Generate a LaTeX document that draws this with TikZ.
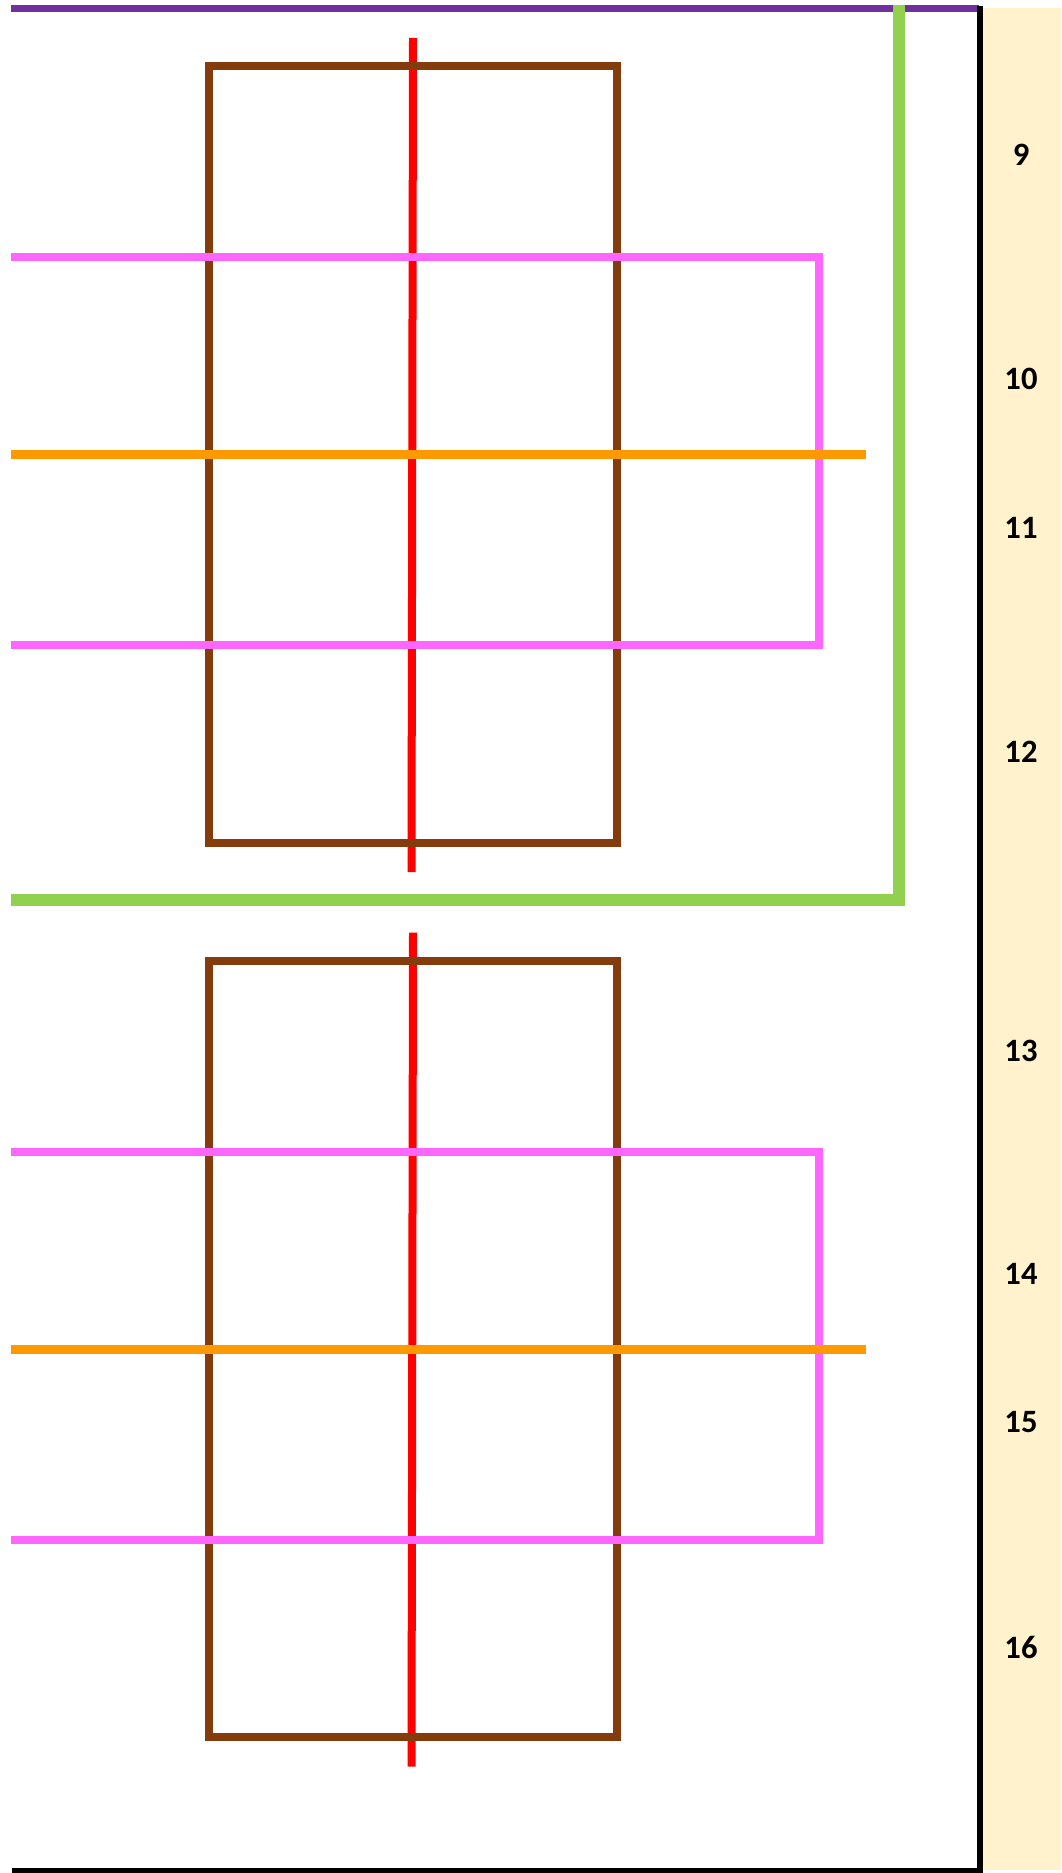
\documentclass[tikz,border=0pt]{standalone}
\usepackage{fontspec}
\setmainfont{Carlito}
\usetikzlibrary{calc}

\definecolor{sidefill}{HTML}{FFF2CC}
\definecolor{boxbrown}{HTML}{843C0C}
\definecolor{bandpink}{HTML}{FF66FF}
\definecolor{midorange}{HTML}{FF9900}
\definecolor{toppurple}{HTML}{7030A0}
\definecolor{boundgreen}{HTML}{92D050}

\begin{document}
\begin{tikzpicture}[
    x=0.5pt, y=-0.5pt,
    font=\fontsize{16.3}{19}\selectfont\bfseries,
    boxline/.style={draw=boxbrown, line width=4pt},
    redaxis/.style={draw=red, line width=4pt},
    pinkband/.style={draw=bandpink, line width=4pt},
    orangeline/.style={draw=midorange, line width=4.5pt},
    purpleline/.style={draw=toppurple, line width=3.5pt},
    greenbound/.style={draw=boundgreen, line width=6pt},
    blackrim/.style={draw=black, line width=3pt},
    numlbl/.style={inner sep=0pt, text=black},
  ]
  \useasboundingbox (0,0) rectangle (1061,1873);

  % side strip
  \fill[sidefill] (982,8) rectangle (1061,1870);

  % two identical blocks
  \foreach \dy [count=\k] in {0,894.5} {
    \coordinate (tl\k) at (208.5,66.5+\dy);
    \coordinate (br\k) at (616.5,842.5+\dy);
    \draw[redaxis] (413,38+\dy) -- (411.5,872+\dy);
    \draw[boxline] (tl\k) rectangle (br\k);
    \draw[pinkband] (11,257+\dy) -- (819,257+\dy) -- (819,645+\dy) -- (11,645+\dy);
    \draw[orangeline] (11,454.5+\dy) -- (866,454.5+\dy);
  }

  % outer lines
  \draw[purpleline] (11,8.5) -- (979,8.5);
  \draw[greenbound] (11,900) -- (898.5,900) -- (898.5,5);
  \draw[blackrim] (980,6) -- (980,1870.5) -- (12,1870.5);

  % numbers
  \foreach \n/\yy in {9/155, 10/379, 11/528, 12/752, 13/1051, 14/1274, 15/1422, 16/1647}
    \node[numlbl] (lbl\n) at (1021,\yy) {\n};
\end{tikzpicture}
\end{document}
